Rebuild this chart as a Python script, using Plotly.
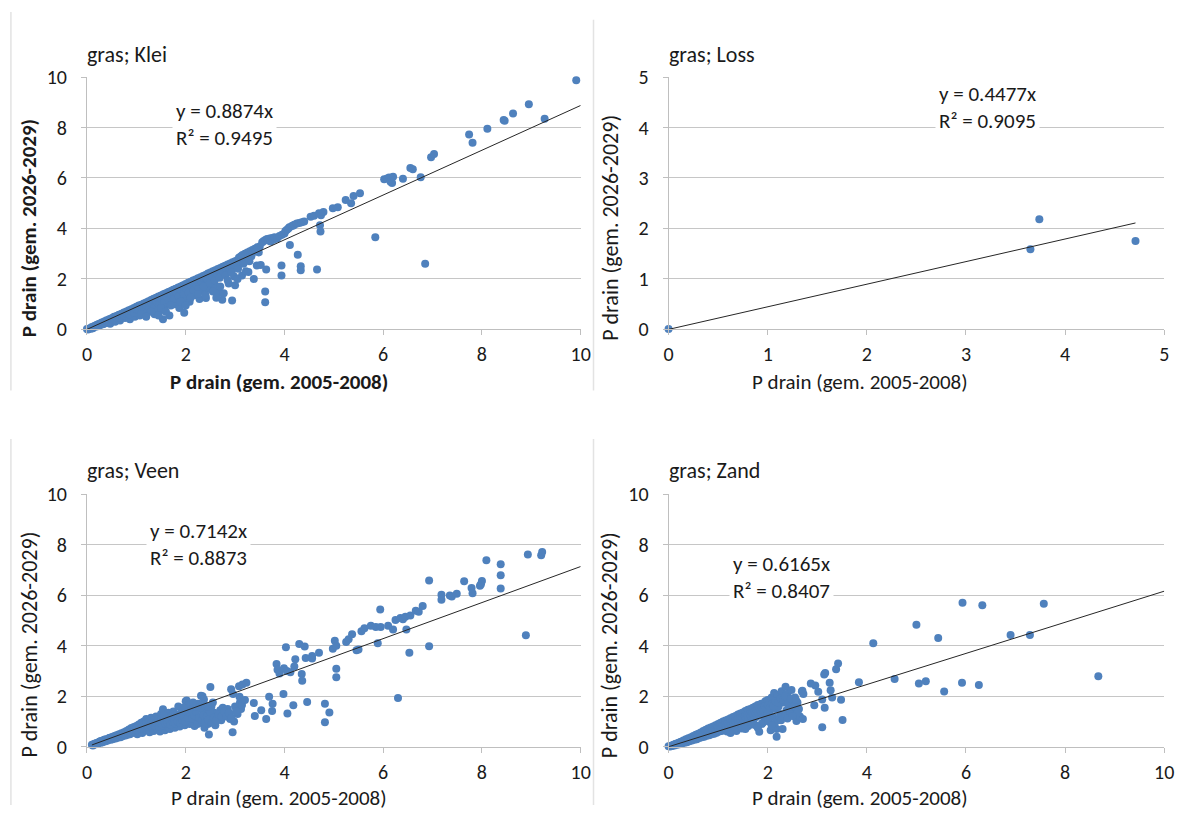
import plotly.graph_objects as go

W, H = 1194, 817

titles = ["gras; Klei", "gras; Loss", "gras; Veen", "gras; Zand"]
slopes = [0.8874, 0.4477, 0.7142, 0.6165]
r2 = [0.9495, 0.9095, 0.8873, 0.8407]
x_max = [10, 5, 10, 10]
y_max = [10, 5, 10, 10]
dticks = [2, 1, 2, 2]
trend_x_start = [0.0, 0.0, 0.1, 0.0]
trend_x_end = [10.0, 4.71, 10.0, 10.0]
x_title = "P drain (gem. 2005-2008)"
y_title = "P drain (gem. 2026-2029)"

klei_xy = [
    (0.0, 0.02), (0.02, 0.0), (0.05, 0.04), (0.08, 0.06), (0.1, 0.09), (0.12, 0.05), (0.15, 0.13),
    (0.17, 0.1), (0.2, 0.18), (0.22, 0.12), (0.25, 0.22), (0.27, 0.17), (0.3, 0.27), (0.32, 0.2),
    (0.35, 0.31), (0.37, 0.24), (0.4, 0.36), (0.42, 0.28), (0.45, 0.4), (0.47, 0.22), (0.5, 0.44),
    (0.52, 0.35), (0.55, 0.5), (0.57, 0.3), (0.6, 0.53), (0.62, 0.42), (0.65, 0.58), (0.67, 0.35),
    (0.7, 0.62), (0.72, 0.5), (0.75, 0.67), (0.77, 0.45), (0.8, 0.71), (0.82, 0.58), (0.85, 0.76),
    (0.87, 0.4), (0.9, 0.8), (0.92, 0.62), (0.95, 0.85), (0.97, 0.5), (1.0, 0.9), (1.02, 0.72),
    (1.05, 0.95), (1.07, 0.55), (1.1, 0.98), (1.12, 0.8), (1.15, 1.03), (1.17, 0.65), (1.2, 1.07),
    (1.22, 0.9), (1.25, 1.12), (1.27, 0.75), (1.3, 1.16), (1.32, 0.98), (1.35, 1.21), (1.37, 0.6),
    (1.4, 1.25), (1.42, 1.05), (1.45, 1.3), (1.47, 0.72), (1.5, 1.34), (1.52, 1.12), (1.54, 0.4),
    (1.55, 1.39), (1.57, 0.9), (1.6, 1.43), (1.62, 1.2), (1.65, 1.48), (1.67, 0.55), (1.7, 1.52),
    (1.72, 1.28), (1.75, 1.57), (1.77, 1.0), (1.8, 1.61), (1.82, 1.35), (1.85, 1.66), (1.87, 0.85),
    (1.9, 1.7), (1.92, 1.45), (1.95, 1.75), (1.97, 0.66), (2.0, 1.8), (1.98, 1.2), (2.03, 1.55),
    (2.05, 1.85), (2.08, 1.1), (2.1, 1.89), (2.12, 1.65), (2.15, 1.94), (2.18, 1.35), (2.2, 1.98),
    (2.22, 1.7), (2.25, 2.03), (2.28, 1.2), (2.3, 2.07), (2.32, 1.8), (2.35, 2.12), (2.38, 1.5),
    (2.41, 1.24), (2.4, 2.16), (2.43, 1.9), (2.45, 2.21), (2.48, 1.6), (2.5, 2.25), (2.53, 2.0),
    (2.55, 2.3), (2.58, 1.75), (2.61, 1.69), (2.6, 2.34), (2.63, 2.1), (2.65, 2.39), (2.68, 1.45),
    (2.7, 2.43), (2.72, 2.2), (2.74, 1.17), (2.77, 1.43), (2.75, 2.48), (2.8, 2.52), (2.82, 2.3),
    (2.85, 2.57), (2.87, 1.82), (2.9, 2.61), (2.92, 2.4), (2.94, 1.14), (2.95, 2.66), (3.0, 2.7),
    (3.0, 1.75), (2.98, 2.1), (3.03, 2.5), (3.05, 2.75), (3.08, 2.85), (3.1, 2.6), (3.12, 2.9),
    (3.14, 2.14), (3.15, 2.95), (3.18, 2.7), (3.2, 3.0), (3.22, 2.3), (3.25, 3.05), (3.27, 2.27),
    (3.28, 2.85), (3.3, 3.1), (3.33, 2.9), (3.35, 3.15), (3.38, 2.0), (3.4, 3.2), (3.44, 2.53),
    (3.45, 3.25), (3.48, 3.05), (3.5, 3.28), (3.52, 2.55), (3.55, 3.45), (3.58, 3.5), (3.61, 1.5),
    (3.61, 1.08), (3.63, 2.37), (3.62, 3.55), (3.65, 3.58), (3.68, 3.52), (3.7, 3.6), (3.72, 3.48),
    (3.75, 3.62), (3.78, 3.55), (3.8, 3.65), (3.85, 3.6), (3.9, 3.7), (3.94, 2.53), (3.94, 2.14),
    (3.95, 3.75), (4.0, 3.8), (4.02, 3.9), (4.05, 3.95), (4.08, 4.0), (4.11, 3.34), (4.1, 4.05),
    (4.15, 4.1), (4.18, 4.12), (4.2, 4.15), (4.25, 4.2), (4.27, 2.96), (4.3, 4.22), (4.33, 2.5),
    (4.33, 2.34), (4.35, 4.25), (4.4, 4.28), (4.53, 4.46), (4.6, 4.5), (4.66, 2.37), (4.7, 4.6),
    (4.72, 4.13), (4.73, 3.88), (4.74, 4.52), (4.79, 4.65), (4.98, 4.8), (5.08, 4.84), (5.24, 5.13),
    (5.35, 5.0), (5.4, 5.29), (5.53, 5.39), (5.84, 3.65), (6.02, 5.95), (6.08, 5.98), (6.12, 6.02),
    (6.15, 5.85), (6.18, 5.8), (6.2, 6.05), (6.4, 5.97), (6.55, 6.4), (6.6, 6.35), (6.76, 6.03),
    (6.85, 2.6), (6.97, 6.82), (7.03, 6.95), (7.74, 7.72), (7.81, 7.4), (8.11, 7.95), (8.44, 8.3),
    (8.46, 8.27), (8.63, 8.55), (8.95, 8.92), (9.27, 8.35), (9.91, 9.87),
    # dense band
    (0.08, 0.03), (0.13, 0.1), (0.18, 0.14), (0.23, 0.19), (0.24, 0.15), (0.29, 0.24), (0.33, 0.26),
    (0.34, 0.22), (0.39, 0.33), (0.41, 0.32), (0.44, 0.3), (0.48, 0.41), (0.51, 0.4), (0.53, 0.46),
    (0.56, 0.41), (0.59, 0.49), (0.61, 0.47), (0.63, 0.55), (0.66, 0.48), (0.69, 0.58), (0.71, 0.56),
    (0.73, 0.63), (0.76, 0.55), (0.79, 0.66), (0.81, 0.63), (0.83, 0.72), (0.86, 0.6), (0.88, 0.74),
    (0.91, 0.7), (0.93, 0.79), (0.96, 0.66), (0.98, 0.83), (1.01, 0.8), (1.03, 0.88), (1.06, 0.76),
    (1.08, 0.92), (1.11, 0.85), (1.13, 0.97), (1.16, 0.82), (1.18, 1.02), (1.21, 0.95), (1.23, 1.08),
    (1.26, 0.88), (1.28, 1.12), (1.31, 1.05), (1.33, 1.17), (1.36, 0.85), (1.38, 1.2), (1.41, 1.1),
    (1.43, 1.26), (1.46, 1.0), (1.48, 1.3), (1.51, 1.2), (1.53, 1.35), (1.56, 1.05), (1.58, 1.4),
    (1.61, 1.3), (1.63, 1.44), (1.66, 1.15), (1.68, 1.48), (1.71, 1.38), (1.73, 1.54), (1.76, 1.2),
    (1.78, 1.58), (1.81, 1.48), (1.83, 1.62), (1.86, 1.3), (1.88, 1.66), (1.91, 1.55), (1.93, 1.72),
    (1.96, 1.4), (1.99, 1.76), (2.01, 1.62), (2.04, 1.8), (2.06, 1.45), (2.09, 1.84), (2.11, 1.75),
    (2.14, 1.9), (2.16, 1.55), (2.19, 1.93), (2.21, 1.82), (2.24, 1.98), (2.26, 1.6), (2.29, 2.02),
    (2.31, 1.92), (2.34, 2.07), (2.36, 1.7), (2.39, 2.1), (2.44, 2.0), (2.47, 2.18), (2.49, 1.85),
    (2.52, 2.22), (2.54, 2.1), (2.57, 2.28), (2.59, 1.95), (2.62, 2.3), (2.64, 2.2), (2.67, 2.36),
    (2.69, 2.05), (2.73, 2.4), (2.76, 2.3), (2.79, 2.46), (2.81, 2.15), (2.84, 2.5), (2.88, 2.45),
    (2.91, 2.56), (2.93, 2.25), (2.97, 2.6), (3.02, 2.65), (3.06, 2.4), (3.09, 2.7), (3.13, 2.8),
    (3.17, 2.6), (3.21, 2.9), (3.26, 2.95), (3.29, 2.7), (3.32, 3.0), (3.36, 3.05), (3.42, 3.1),
    (3.47, 3.2), (1.1, 0.6), (1.3, 0.7), (1.5, 0.85), (1.45, 0.55), (1.7, 0.95), (1.9, 1.1),
    (2.1, 1.25), (2.25, 1.4), (2.4, 1.35), (2.55, 1.5), (2.0, 0.95), (1.6, 0.7), (1.2, 0.5),
    (2.7, 1.7), (2.85, 1.95), (3.05, 2.0), (2.62, 1.25),
]

loss_x = [0.0, 3.65, 3.74, 4.71]
loss_y = [0.01, 1.59, 2.18, 1.75]

veen_xy = [
    (0.1, 0.08), (0.12, 0.05), (0.15, 0.12), (0.18, 0.1), (0.2, 0.15), (0.22, 0.12), (0.25, 0.2),
    (0.28, 0.16), (0.3, 0.24), (0.32, 0.18), (0.35, 0.28), (0.38, 0.22), (0.4, 0.3), (0.42, 0.25),
    (0.45, 0.35), (0.48, 0.28), (0.5, 0.38), (0.52, 0.3), (0.55, 0.42), (0.58, 0.33), (0.6, 0.46),
    (0.62, 0.36), (0.65, 0.5), (0.68, 0.38), (0.7, 0.54), (0.72, 0.42), (0.75, 0.58), (0.78, 0.45),
    (0.8, 0.62), (0.82, 0.48), (0.85, 0.68), (0.87, 0.5), (0.9, 0.74), (0.92, 0.55), (0.95, 0.78),
    (0.97, 0.6), (1.0, 0.82), (1.02, 0.5), (1.05, 0.88), (1.08, 0.6), (1.1, 0.95), (1.12, 0.55),
    (1.15, 1.0), (1.18, 0.7), (1.2, 1.1), (1.22, 0.65), (1.25, 0.9), (1.27, 0.58), (1.3, 1.15),
    (1.32, 0.75), (1.35, 0.62), (1.38, 1.0), (1.4, 1.2), (1.42, 0.7), (1.45, 0.85), (1.48, 0.6),
    (1.5, 1.3), (1.52, 0.78), (1.54, 1.49), (1.55, 0.95), (1.58, 0.65), (1.6, 1.1), (1.62, 0.8),
    (1.65, 1.35), (1.68, 0.7), (1.7, 1.0), (1.72, 0.85), (1.75, 1.4), (1.78, 0.75), (1.8, 1.15),
    (1.82, 0.9), (1.85, 1.6), (1.88, 0.8), (1.9, 1.25), (1.92, 0.95), (1.95, 1.45), (1.98, 0.85),
    (2.0, 1.8), (2.02, 1.83), (2.04, 1.05), (2.06, 1.65), (2.08, 0.9), (2.1, 1.3), (2.12, 1.0),
    (2.15, 1.5), (2.18, 0.82), (2.2, 1.2), (2.22, 1.05), (2.25, 1.7), (2.28, 0.95), (2.31, 2.02),
    (2.34, 2.0), (2.35, 1.3), (2.37, 1.87), (2.38, 0.75), (2.4, 1.1), (2.42, 1.45), (2.45, 0.9),
    (2.47, 0.49), (2.5, 1.25), (2.5, 2.37), (2.52, 1.6), (2.55, 1.0), (2.58, 1.35), (2.6, 0.85),
    (2.65, 1.2), (2.7, 1.45), (2.72, 1.05), (2.75, 1.55), (2.8, 1.3), (2.85, 1.5), (2.9, 1.1),
    (2.92, 2.28), (2.95, 0.58), (2.96, 2.09), (2.98, 1.0), (3.0, 1.6), (3.05, 1.3), (3.08, 2.4),
    (3.09, 1.98), (3.1, 1.75), (3.12, 1.5), (3.15, 2.47), (3.23, 2.54), (3.38, 1.73), (3.4, 1.22),
    (3.53, 1.45), (3.63, 1.1), (3.69, 1.98), (3.75, 1.42), (3.76, 1.7), (3.84, 3.28), (3.86, 3.05),
    (3.9, 2.9), (3.98, 2.09), (3.99, 3.11), (4.03, 3.94), (4.05, 3.0), (4.06, 1.32), (4.12, 2.95),
    (4.18, 1.64), (4.2, 3.18), (4.22, 3.47), (4.3, 4.07), (4.35, 2.88), (4.36, 2.62), (4.41, 3.97),
    (4.43, 3.52), (4.46, 1.77), (4.56, 3.6), (4.56, 3.5), (4.7, 3.73), (4.82, 1.7), (4.82, 0.97),
    (4.91, 1.36), (4.98, 3.88), (5.02, 4.2), (5.05, 4.0), (5.05, 3.09), (5.05, 2.75), (5.25, 4.15),
    (5.3, 4.26), (5.37, 4.46), (5.46, 3.82), (5.5, 3.85), (5.56, 4.58), (5.62, 4.7), (5.75, 4.8),
    (5.85, 4.75), (5.89, 4.1), (5.94, 5.44), (5.95, 4.75), (6.1, 4.8), (6.2, 4.65), (6.25, 5.02),
    (6.3, 1.93), (6.35, 5.1), (6.4, 5.05), (6.45, 5.15), (6.47, 4.65), (6.53, 3.73), (6.55, 5.2),
    (6.66, 5.39), (6.72, 5.35), (6.8, 5.58), (6.93, 6.59), (6.93, 3.98), (7.18, 6.02), (7.18, 5.83),
    (7.35, 5.99), (7.39, 5.95), (7.49, 6.06), (7.64, 6.56), (7.79, 6.29), (7.81, 6.08), (8.0, 6.57),
    (7.98, 6.44), (7.96, 6.38), (8.09, 7.39), (8.38, 7.23), (8.38, 6.8), (8.38, 6.27), (8.89, 4.42),
    (8.93, 7.62), (9.2, 7.59), (9.22, 7.72),
    # dense band
    (0.14, 0.09), (0.19, 0.14), (0.24, 0.17), (0.27, 0.22), (0.31, 0.21), (0.34, 0.25), (0.37, 0.29),
    (0.41, 0.27), (0.44, 0.32), (0.47, 0.36), (0.49, 0.31), (0.53, 0.4), (0.56, 0.36), (0.59, 0.44),
    (0.63, 0.41), (0.66, 0.47), (0.69, 0.44), (0.73, 0.52), (0.76, 0.5), (0.79, 0.56), (0.83, 0.55),
    (0.86, 0.62), (0.88, 0.58), (0.91, 0.66), (0.94, 0.62), (0.96, 0.7), (0.99, 0.66), (1.01, 0.74),
    (1.04, 0.7), (1.06, 0.78), (1.09, 0.72), (1.11, 0.82), (1.14, 0.75), (1.16, 0.88), (1.19, 0.8),
    (1.21, 0.92), (1.24, 0.82), (1.26, 1.0), (1.29, 0.86), (1.31, 0.95), (1.34, 0.88), (1.36, 1.05),
    (1.39, 0.82), (1.41, 0.95), (1.44, 1.08), (1.46, 0.78), (1.49, 0.92), (1.51, 1.12), (1.53, 0.85),
    (1.56, 1.02), (1.59, 0.9), (1.61, 1.22), (1.63, 0.95), (1.66, 1.05), (1.69, 0.88), (1.71, 1.18),
    (1.74, 0.98), (1.76, 1.1), (1.79, 0.92), (1.81, 1.28), (1.84, 1.0), (1.87, 1.12), (1.89, 0.95),
    (1.91, 1.35), (1.94, 1.05), (1.96, 1.2), (1.99, 1.0), (2.01, 1.4), (2.05, 1.15), (2.09, 1.35),
    (2.13, 1.12), (2.17, 1.25), (2.21, 1.4), (2.24, 0.9), (2.27, 1.15), (2.3, 1.55), (2.33, 1.05),
    (2.36, 1.25), (2.39, 0.95), (2.43, 1.2), (2.46, 1.05), (2.49, 1.4), (2.53, 0.95), (2.57, 1.15),
    (2.62, 1.05), (2.67, 1.3), (2.73, 1.2), (2.78, 1.4), (2.83, 1.2), (2.88, 1.35), (2.93, 1.15),
    (3.02, 1.4), (3.14, 1.65), (3.2, 1.85), (2.55, 1.75), (2.45, 1.6), (2.35, 1.7), (2.2, 1.6),
    (1.95, 1.55), (2.15, 1.75), (1.75, 1.3), (1.55, 1.25),
]

zand_xy = [
    (0.0, 0.02), (0.03, 0.01), (0.05, 0.04), (0.07, 0.03), (0.1, 0.08), (0.12, 0.05), (0.15, 0.12),
    (0.17, 0.08), (0.2, 0.16), (0.22, 0.1), (0.25, 0.2), (0.27, 0.13), (0.3, 0.25), (0.32, 0.16),
    (0.35, 0.3), (0.37, 0.18), (0.4, 0.34), (0.42, 0.22), (0.45, 0.38), (0.47, 0.25), (0.5, 0.43),
    (0.52, 0.28), (0.55, 0.48), (0.57, 0.3), (0.6, 0.52), (0.62, 0.35), (0.65, 0.57), (0.67, 0.38),
    (0.7, 0.62), (0.72, 0.4), (0.75, 0.67), (0.77, 0.44), (0.8, 0.72), (0.82, 0.46), (0.85, 0.76),
    (0.87, 0.5), (0.9, 0.8), (0.92, 0.52), (0.95, 0.85), (0.97, 0.56), (1.0, 0.9), (1.02, 0.6),
    (1.05, 0.95), (1.07, 0.62), (1.1, 1.0), (1.12, 0.66), (1.15, 1.04), (1.17, 0.7), (1.2, 1.08),
    (1.22, 0.72), (1.25, 1.13), (1.27, 0.76), (1.3, 1.18), (1.32, 0.8), (1.35, 1.22), (1.37, 0.62),
    (1.4, 1.28), (1.42, 0.85), (1.45, 1.32), (1.47, 0.9), (1.5, 1.36), (1.52, 0.95), (1.55, 1.42),
    (1.57, 0.78), (1.6, 1.47), (1.62, 1.05), (1.65, 1.5), (1.67, 1.1), (1.7, 1.55), (1.72, 0.9),
    (1.75, 1.6), (1.77, 1.18), (1.8, 1.65), (1.83, 0.59), (1.85, 1.25), (1.87, 1.7), (1.9, 0.95),
    (1.92, 1.32), (1.95, 1.8), (1.98, 1.1), (2.0, 1.85), (2.03, 1.4), (2.06, 0.65), (2.08, 1.95),
    (2.1, 1.2), (2.13, 2.13), (2.15, 1.5), (2.18, 0.4), (2.18, 0.7), (2.19, 1.05), (2.2, 2.05),
    (2.22, 1.6), (2.25, 1.3), (2.28, 2.2), (2.3, 0.7), (2.32, 1.75), (2.36, 2.38), (2.38, 1.45),
    (2.4, 2.1), (2.42, 1.9), (2.45, 1.6), (2.48, 2.25), (2.51, 1.7), (2.52, 1.45), (2.55, 1.95),
    (2.58, 1.02), (2.6, 1.75), (2.65, 1.2), (2.69, 2.19), (2.7, 2.22), (2.71, 1.1), (2.72, 2.09),
    (2.87, 2.51), (2.94, 1.64), (2.96, 2.43), (3.02, 2.18), (3.1, 1.87), (3.1, 0.77), (3.14, 2.86),
    (3.15, 1.55), (3.16, 2.92), (3.25, 2.54), (3.27, 2.24), (3.3, 1.95), (3.38, 3.07), (3.42, 3.3),
    (3.48, 1.86), (3.51, 1.06), (3.84, 2.56), (4.13, 4.1), (4.56, 2.69), (5.0, 4.83), (5.05, 2.51),
    (5.19, 2.6), (5.44, 4.31), (5.56, 2.19), (5.92, 2.54), (5.93, 5.71), (6.26, 2.45), (6.33, 5.61),
    (6.9, 4.43), (7.29, 4.43), (7.57, 5.67), (8.67, 2.79),
    # dense band
    (0.04, 0.03), (0.09, 0.06), (0.13, 0.1), (0.16, 0.11), (0.19, 0.12), (0.23, 0.17), (0.26, 0.16),
    (0.29, 0.21), (0.31, 0.2), (0.34, 0.24), (0.36, 0.23), (0.39, 0.28), (0.41, 0.27), (0.44, 0.31),
    (0.46, 0.3), (0.49, 0.35), (0.51, 0.33), (0.54, 0.38), (0.56, 0.37), (0.59, 0.42), (0.61, 0.4),
    (0.64, 0.46), (0.66, 0.44), (0.69, 0.5), (0.71, 0.47), (0.74, 0.54), (0.76, 0.5), (0.79, 0.58),
    (0.81, 0.55), (0.84, 0.62), (0.86, 0.58), (0.89, 0.66), (0.91, 0.62), (0.94, 0.7), (0.96, 0.66),
    (0.99, 0.74), (1.01, 0.7), (1.04, 0.78), (1.06, 0.74), (1.09, 0.82), (1.11, 0.78), (1.14, 0.86),
    (1.16, 0.82), (1.19, 0.9), (1.21, 0.85), (1.24, 0.95), (1.26, 0.88), (1.29, 0.98), (1.31, 0.92),
    (1.34, 1.02), (1.36, 0.95), (1.39, 1.08), (1.41, 1.0), (1.44, 1.12), (1.46, 1.05), (1.49, 1.15),
    (1.51, 1.1), (1.54, 1.2), (1.56, 1.12), (1.59, 1.25), (1.61, 1.18), (1.64, 1.3), (1.66, 1.22),
    (1.69, 1.35), (1.71, 1.28), (1.74, 1.4), (1.76, 1.32), (1.79, 1.45), (1.81, 1.38), (1.84, 1.52),
    (1.86, 1.42), (1.89, 1.55), (1.91, 1.45), (1.94, 1.6), (1.97, 1.5), (2.01, 1.65), (2.05, 1.55),
    (2.09, 1.7), (2.12, 1.62), (2.16, 1.8), (2.21, 1.75), (2.26, 1.9), (2.31, 1.85), (2.35, 2.0),
    (2.41, 1.7), (2.47, 1.9), (2.53, 1.6), (2.57, 1.85), (2.63, 1.5), (1.95, 1.2), (2.0, 1.3),
    (2.24, 1.15), (2.35, 1.2), (1.7, 1.05), (1.5, 0.9), (2.45, 1.3), (2.6, 1.35),
    (1.18, 0.6), (1.33, 0.68), (1.48, 0.72), (1.61, 0.82), (1.74, 0.86), (1.88, 0.9), (2.02, 1.0),
    (2.14, 0.92), (2.27, 1.05), (2.4, 1.12), (2.5, 1.22), (1.25, 0.55), (1.55, 0.7), (1.8, 0.75),
    (2.08, 0.85),
]

klei_x = [p[0] for p in klei_xy]
klei_y = [p[1] for p in klei_xy]
veen_x = [p[0] for p in veen_xy]
veen_y = [p[1] for p in veen_xy]
zand_x = [p[0] for p in zand_xy]
zand_y = [p[1] for p in zand_xy]

series_x = [klei_x, loss_x, veen_x, zand_x]
series_y = [klei_y, loss_y, veen_y, zand_y]

# layout (pixels)
plot_px = [
    (83, 583, 67, 327),
    (672, 1174, 67, 327),
    (83, 583, 497, 757),
    (672, 1174, 497, 757),
]
bold_titles = [True, False, False, False]
title_pos = [(81, 44), (670, 44), (81, 472), (670, 472)]
ytitle_pos = [(25, 223), (613, 222), (25, 652), (613, 652)]
xtitle_pos = [(277, 381), (866, 381), (277, 810), (866, 810)]
eq_pos = [(169, 116), (942, 98), (143, 549), (733, 583)]

FONT = "Carlito, Lato, sans-serif"
BLUE = "#4F81BD"
TXT = "#1a1a1a"
TICK_SIZE = 20
TITLE_SIZE = 22
AXT_SIZE = 22
XT_SIZE = 21
EQ_SIZE = 21


def px(x):
    return x / W


def py(y):
    return 1 - y / H


fig = go.Figure()
layout = dict(
    width=W, height=H, margin=dict(l=0, r=0, t=0, b=0),
    paper_bgcolor="white", plot_bgcolor="white", showlegend=False,
    font=dict(family=FONT, color=TXT, size=17),
)
annotations = []
shapes = []

for i in range(4):
    sfx = "" if i == 0 else str(i + 1)
    xa, ya = "x" + sfx, "y" + sfx
    x0, x1, y0, y1 = plot_px[i]
    layout["xaxis" + sfx] = dict(
        domain=[px(x0), px(x1)], range=[0, x_max[i]], dtick=dticks[i], tick0=0,
        showgrid=False, zeroline=False, showline=True, linecolor="#BFBFBF", linewidth=1,
        ticks="outside", ticklen=5, tickcolor="#BFBFBF",
        tickfont=dict(size=TICK_SIZE, family=FONT, color=TXT),
        ticklabelstandoff=2, anchor=ya, fixedrange=True,
    )
    layout["yaxis" + sfx] = dict(
        domain=[py(y1), py(y0)], range=[0, y_max[i]], dtick=dticks[i], tick0=0,
        showgrid=True, gridcolor="#C6C6C6", gridwidth=1, zeroline=False,
        showline=True, linecolor="#BFBFBF", linewidth=1,
        ticks="outside", ticklen=5, tickcolor="#BFBFBF",
        tickfont=dict(size=TICK_SIZE, family=FONT, color=TXT),
        ticklabelstandoff=10, anchor=xa, fixedrange=True,
    )
    fig.add_trace(go.Scatter(
        x=series_x[i], y=series_y[i], mode="markers", xaxis=xa, yaxis=ya,
        marker=dict(color=BLUE, size=8, line=dict(width=0)), cliponaxis=False,
    ))
    tx = [trend_x_start[i], trend_x_end[i]]
    fig.add_trace(go.Scatter(
        x=tx, y=[slopes[i] * v for v in tx], mode="lines", xaxis=xa, yaxis=ya,
        line=dict(color="#262626", width=1),
    ))
    b = bold_titles[i]
    annotations.append(dict(
        text=titles[i], x=px(title_pos[i][0]), y=py(title_pos[i][1]), xref="paper", yref="paper",
        xanchor="left", yanchor="middle", showarrow=False,
        font=dict(size=TITLE_SIZE, family=FONT, color=TXT),
    ))
    annotations.append(dict(
        text=("<b>%s</b>" % y_title) if b else y_title,
        x=px(ytitle_pos[i][0]), y=py(ytitle_pos[i][1]), xref="paper", yref="paper",
        xanchor="center", yanchor="middle", textangle=-90, showarrow=False,
        font=dict(size=AXT_SIZE - (1 if b else 0), family=FONT, color=TXT),
    ))
    annotations.append(dict(
        text=("<b>%s</b>" % x_title) if b else x_title,
        x=px(xtitle_pos[i][0]), y=py(xtitle_pos[i][1]), xref="paper", yref="paper",
        xanchor="center", yanchor="middle", showarrow=False,
        font=dict(size=XT_SIZE, family=FONT, color=TXT),
    ))
    annotations.append(dict(
        text="y = %.4fx<br>R² = %.4f" % (slopes[i], r2[i]),
        x=px(eq_pos[i][0]), y=py(eq_pos[i][1]), xref="paper", yref="paper",
        xanchor="left", yanchor="middle", align="left", showarrow=False,
        bgcolor="white", borderpad=3, font=dict(size=EQ_SIZE, family=FONT, color=TXT),
    ))

# faint chart borders between panels
for (xx, ya0, ya1) in [(596, 8, 390), (596, 440, 817), (6, 0, 390), (6, 440, 817)]:
    shapes.append(dict(type="line", xref="paper", yref="paper", x0=px(xx), x1=px(xx),
                       y0=py(ya0), y1=py(ya1), line=dict(color="#E3E3E3", width=1.5)))

layout["annotations"] = annotations
layout["shapes"] = shapes
fig.update_layout(**layout)
fig.write_html("out.html")
